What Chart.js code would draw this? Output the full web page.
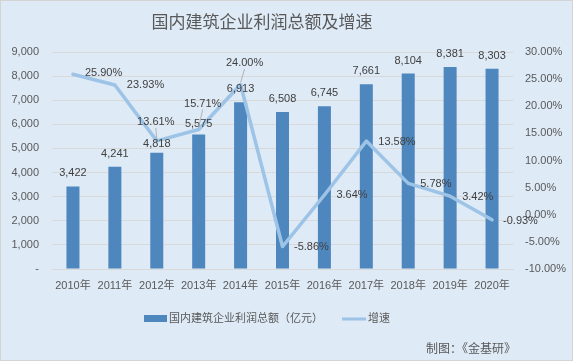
<!DOCTYPE html>
<html><head><meta charset="utf-8">
<script src="https://cdn.jsdelivr.net/npm/chart.js@4.4.0/dist/chart.umd.min.js"></script>
<style>
html,body{margin:0;padding:0;background:#deeaf6;}
canvas{display:block;}
</style></head>
<body>
<canvas id="c" width="573" height="361"></canvas>
<script>
const categories = ['2010年','2011年','2012年','2013年','2014年','2015年','2016年','2017年','2018年','2019年','2020年'];
const profit = [3422, 4241, 4818, 5575, 6913, 6508, 6745, 7661, 8104, 8381, 8303];
const growth = [25.90, 23.93, 13.61, 15.71, 24.00, -5.86, 3.64, 13.58, 5.78, 3.42, -0.93];
const title = '国内建筑企业利润总额及增速';
const legendBar = '国内建筑企业利润总额（亿元）';
const legendLine = '增速';
const footer = '制图：《金基研》';

// label placement (style only)
const growthLabelOffsets = [
  {align:'left', dx:12, dy:-1}, {align:'left', dx:12, dy:0}, {align:'center', dx:-1, dy:-19, leader:true},
  {align:'center', dx:4, dy:-26, leader:true}, {align:'center', dx:4, dy:-21.5, leader:true},
  {align:'left', dx:11.5, dy:0.5}, {align:'left', dx:12, dy:0}, {align:'left', dx:12, dy:1},
  {align:'left', dx:12, dy:0.5}, {align:'left', dx:12, dy:0.5}, {align:'left', dx:11, dy:1}
];
const barLabelGap = [13.5, 13, 9, 11, 13.5, 13.5, 13.5, 13.5, 13, 12.7, 12.5];

const FONT = "'Liberation Sans','Noto Sans CJK SC',sans-serif";
const BG = '#deeaf6';
const BAR = '#4e86be';
const LINE = '#9dc3e6';

const decor = {
  id: 'decor',
  beforeDraw(chart) {
    const ctx = chart.ctx;
    ctx.save();
    ctx.fillStyle = BG;
    ctx.fillRect(0, 0, chart.width, chart.height);
    ctx.restore();
  },
  afterDatasetsDraw(chart) {
    const ctx = chart.ctx;
    ctx.save();
    ctx.font = '11px ' + FONT;
    ctx.fillStyle = '#404040';
    ctx.textBaseline = 'middle';
    const barMeta = chart.getDatasetMeta(0);
    barMeta.data.forEach((el, i) => {
      ctx.textAlign = 'center';
      ctx.fillText(profit[i].toLocaleString('en-US'), el.x, el.y - barLabelGap[i]);
    });
    const lineMeta = chart.getDatasetMeta(1);
    lineMeta.data.forEach((el, i) => {
      const o = growthLabelOffsets[i];
      const txt = growth[i].toFixed(2) + '%';
      ctx.textAlign = o.align;
      const x = el.x + o.dx, y = el.y + o.dy;
      if (o.leader) {
        ctx.save();
        ctx.strokeStyle = '#a6a6a6';
        ctx.lineWidth = 0.8;
        ctx.beginPath();
        ctx.moveTo(x, y + 6);
        ctx.lineTo(el.x, el.y - 2);
        ctx.stroke();
        ctx.restore();
      }
      ctx.fillText(txt, x, y);
    });
    ctx.restore();
  },
  afterDraw(chart) {
    const ctx = chart.ctx;
    ctx.save();
    // title
    ctx.fillStyle = '#595959';
    ctx.font = '17px ' + FONT;
    ctx.textAlign = 'center';
    ctx.textBaseline = 'middle';
    ctx.fillText(title, 262, 23);
    // legend
    ctx.fillStyle = BAR;
    ctx.fillRect(144, 315, 23, 7);
    ctx.fillStyle = '#595959';
    ctx.font = '11px ' + FONT;
    ctx.textAlign = 'left';
    ctx.fillText(legendBar, 169, 319);
    ctx.strokeStyle = LINE;
    ctx.lineWidth = 3;
    ctx.beginPath();
    ctx.moveTo(342, 319);
    ctx.lineTo(366, 319);
    ctx.stroke();
    ctx.fillText(legendLine, 368, 319);
    // footer
    ctx.font = '12px ' + FONT;
    ctx.textAlign = 'right';
    ctx.fillText(footer, 516, 350);
    // border
    ctx.strokeStyle = '#d4d4d4';
    ctx.lineWidth = 1;
    ctx.strokeRect(0.5, 0.5, chart.width - 1, chart.height - 1);
    ctx.restore();
  }
};

new Chart(document.getElementById('c'), {
  type: 'bar',
  data: {
    labels: categories,
    datasets: [
      { type: 'bar', label: legendBar, data: profit, backgroundColor: BAR, yAxisID: 'y',
        barPercentage: 0.31, categoryPercentage: 1, order: 1 },
      { type: 'line', label: legendLine, data: growth, borderColor: LINE, borderWidth: 3.5,
        pointRadius: 0, tension: 0, yAxisID: 'y1', order: 0, borderCapStyle: 'round', borderJoinStyle: 'round' }
    ]
  },
  options: {
    responsive: false,
    devicePixelRatio: 1,
    animation: false,
    layout: { padding: { top: 52, left: 0, right: 0, bottom: 0 } },
    plugins: { legend: { display: false }, tooltip: { enabled: false }, title: { display: false } },
    scales: {
      x: {
        grid: { display: false, drawTicks: false },
        border: { display: true, color: '#d9d9d9' },
        ticks: { color: '#595959', font: { size: 11, family: FONT }, padding: 10, maxRotation: 0, autoSkip: false },
        afterFit(s) { s.height = 92; }
      },
      y: {
        position: 'left', min: 0, max: 9000,
        grid: { color: '#d9d9d9', drawTicks: false },
        border: { display: false },
        ticks: { stepSize: 1000, color: '#595959', font: { size: 11, family: FONT }, padding: 13,
          callback: v => v === 0 ? '-' : v.toLocaleString('en-US') },
        afterFit(s) { s.width = 52; }
      },
      y1: {
        position: 'right', min: -10, max: 30,
        grid: { display: false, drawTicks: false },
        border: { display: false },
        ticks: { stepSize: 5, color: '#595959', font: { size: 11, family: FONT }, padding: 12,
          callback: v => v.toFixed(2) + '%' },
        afterFit(s) { s.width = 60; }
      }
    }
  },
  plugins: [decor]
});
</script>
</body></html>
